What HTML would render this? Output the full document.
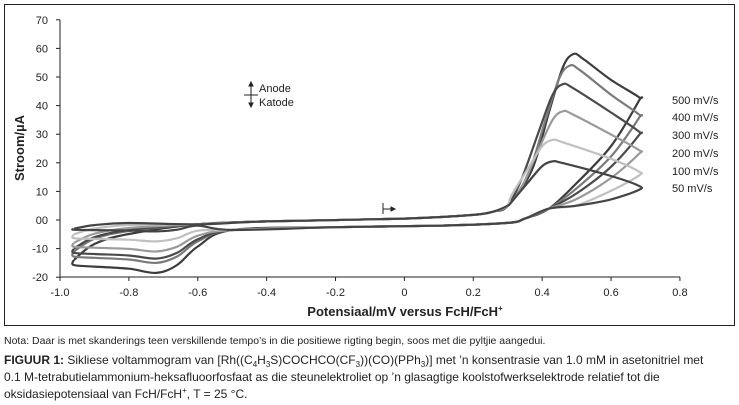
<!DOCTYPE html>
<html><head><meta charset="utf-8"><style>
body{margin:0;background:#fff;width:739px;height:405px;overflow:hidden;font-family:"Liberation Sans",sans-serif}
</style></head><body>
<svg id="s" width="739" height="405" style="position:absolute;left:0;top:0" font-family="Liberation Sans, sans-serif">
<rect x="4.5" y="4.5" width="730" height="321" fill="none" stroke="#222" stroke-width="1"/>
<g stroke="#222" stroke-width="1" fill="none">
<line x1="60" y1="20" x2="60" y2="277"/><line x1="60" y1="277" x2="680" y2="277"/>
</g>
<g id="ticks"></g>
<g id="curves" fill="none" stroke-width="2.2" stroke-linejoin="round"></g>
<text x="24" y="148" font-size="13" font-weight="bold" fill="#222" transform="rotate(-90 24 148)" text-anchor="middle">Stroom/µA</text>
<text x="405" y="316" font-size="13" font-weight="bold" fill="#222" text-anchor="middle">Potensiaal/mV versus FcH/FcH<tspan font-size="8" dy="-5">+</tspan></text>
<g font-size="11" fill="#222">
<text x="259" y="92">Anode</text><text x="259" y="106">Katode</text>
<text x="672" y="104">500 mV/s</text><text x="672" y="121">400 mV/s</text>
<text x="672" y="139">300 mV/s</text><text x="672" y="157">200 mV/s</text>
<text x="672" y="175">100 mV/s</text><text x="672" y="192">50 mV/s</text>
</g>
<g stroke="#222" stroke-width="1" fill="#222">
<line x1="244" y1="95" x2="258" y2="95"/><line x1="251" y1="85" x2="251" y2="104"/>
<path d="M249 86 L251 82 L253 86Z"/><path d="M249 103 L251 107 L253 103Z"/>
<line x1="383" y1="203" x2="383" y2="214"/><line x1="383" y1="209" x2="392" y2="209"/>
<path d="M391 207 L395 209 L391 211Z"/>
</g>
<text x="4" y="344" font-size="10.5" fill="#222">Nota: Daar is met skanderings teen verskillende tempo’s in die positiewe rigting begin, soos met die pyltjie aangedui.</text>
<text x="4" y="364" font-size="12" fill="#222"><tspan font-weight="bold">FIGUUR 1:</tspan> Sikliese voltammogram van [Rh((C<tspan font-size="8" dy="3">4</tspan><tspan dy="-3">H</tspan><tspan font-size="8" dy="3">3</tspan><tspan dy="-3">S)COCHCO(CF</tspan><tspan font-size="8" dy="3">3</tspan><tspan dy="-3">))(CO)(PPh</tspan><tspan font-size="8" dy="3">3</tspan><tspan dy="-3">)] met ’n konsentrasie van 1.0 mM in asetonitriel met</tspan></text>
<text x="4" y="381" font-size="12" fill="#222">0.1 M-tetrabutielammonium-heksafluoorfosfaat as die steunelektroliet op ’n glasagtige koolstofwerkselektrode relatief tot die</text>
<text x="4" y="398" font-size="12" fill="#222">oksidasiepotensiaal van FcH/FcH<tspan font-size="8" dy="-5">+</tspan><tspan dy="5">, T = 25 °C.</tspan></text>
</svg>
<script>
var X=function(e){return 60+(e+1)*344.4},Y=function(i){return 220-i*2.86};
var tk=document.getElementById('ticks'),h='';
for(var v=-20;v<=70;v+=10){var y=Y(v);h+='<line x1="56" x2="60" y1="'+y+'" y2="'+y+'" stroke="#222"/><text x="48" y="'+(y+4)+'" font-size="11" text-anchor="end" fill="#222">'+(v==0?'00':v)+'</text>';}
var xl=['-1.0','-0.8','-0.6','-0.4','-0.2','0','0.2','0.4','0.6','0.8'];
for(var k=0;k<10;k++){var x=X(-1+k*0.2);h+='<line x1="'+x+'" x2="'+x+'" y1="277" y2="281" stroke="#222"/><text x="'+x+'" y="296" font-size="11" text-anchor="middle" fill="#222">'+xl[k]+'</text>';}
tk.innerHTML=h;
var C=[[500,58,0.49,43,-18.5,-14,'#3c3c3c'],[400,54,0.48,37,-15,-11,'#7a7a7a'],[300,47.5,0.46,31,-13.5,-10,'#4a4a4a'],[200,38,0.46,24.5,-11,-8,'#9a9a9a'],[100,28,0.43,17,-7.5,-5,'#c0c0c0'],[50,20.5,0.43,12,-4,-3,'#444']];
function cr(p){var d='M'+p[0][0]+' '+p[0][1];for(var i=0;i<p.length-1;i++){var a=p[Math.max(i-1,0)],b=p[i],c=p[i+1],e=p[Math.min(i+2,p.length-1)];d+=' C'+(b[0]+(c[0]-a[0])/6)+' '+(b[1]+(c[1]-a[1])/6)+' '+(c[0]-(e[0]-b[0])/6)+' '+(c[1]-(e[1]-b[1])/6)+' '+c[0]+' '+c[1];}return d;}
var g='';
C.forEach(function(c){var Ia=c[1],Ep=c[2],Ie=c[3],Ic=c[4],c1=c[5];
var pts=[[-0.96,c1],[-0.9,c1*0.6],[-0.8,c1*0.35],[-0.6,-1.5],[-0.4,-0.5],[0,0.5],[0.2,1.8],[0.26,3],[0.3,5],[Ep-0.12,Ia*0.3],[Ep-0.07,Ia*0.65],[Ep-0.03,Ia*0.92],[Ep,Ia],[Ep+0.03,Ia*0.97],[0.6,Ie+(Ia-Ie)*0.4],[0.68,Ie],[0.68,Ie-1.5],[0.6,Ie*0.6],[0.5,Math.max(Ie*0.3,5)],[0.42,4],[0.35,0.5],[0.3,-1],[0.1,-2],[-0.2,-2.5],[-0.5,-3.5],[-0.6,Ic*0.5],[-0.66,Ic*0.85],[-0.72,Ic],[-0.8,Ic*0.92],[-0.9,Ic*0.88],[-0.96,Ic*0.85],[-0.96,c1]];
g+='<path stroke="'+c[6]+'" d="'+cr(pts.map(function(p){return [X(p[0]).toFixed(1)*1,Y(p[1]).toFixed(1)*1]}))+'"/>';});
document.getElementById('curves').innerHTML=g;
</script>
</body></html>
